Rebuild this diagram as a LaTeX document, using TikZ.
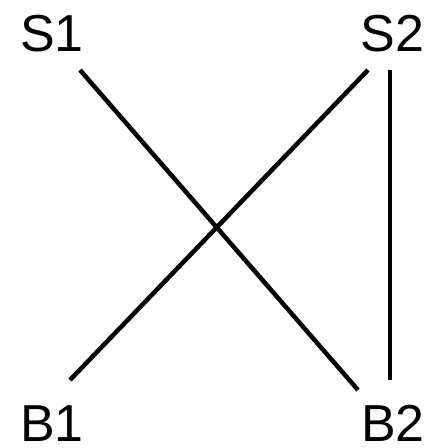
\documentclass[tikz,border=0pt]{standalone}
\usepackage{fontspec}
\setmainfont{Liberation Sans}
\begin{document}
\begin{tikzpicture}[x=1pt,y=-1pt,
  lbl/.style={anchor=base west,inner sep=0pt,font=\fontsize{52}{52}\selectfont},
  edge/.style={line width=4.5pt}]
\useasboundingbox (0,0) rectangle (441,448);
\node[lbl] (S1) at (20,51.5) {S1};
\node[lbl] (S2) at (360.5,51.5) {S2};
\node[lbl] (B1) at (20,441) {B1};
\node[lbl] (B2) at (361,441) {B2};
\coordinate (s1a) at (80,70);
\coordinate (b2a) at (358,390);
\coordinate (s2a) at (368,70);
\coordinate (b1a) at (70,380);
\coordinate (s2b) at (390,70);
\coordinate (b2b) at (390,380);
\draw[edge] (s1a) -- (b2a);
\draw[edge] (s2a) -- (b1a);
\draw[edge] (s2b) -- (b2b);
\end{tikzpicture}
\end{document}
